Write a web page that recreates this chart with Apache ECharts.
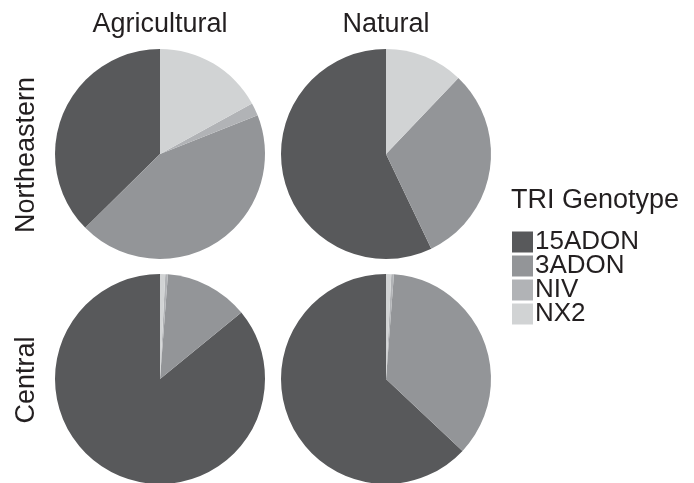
<!DOCTYPE html>
<html>
<head>
<meta charset="utf-8">
<script src="https://cdn.jsdelivr.net/npm/echarts@6/dist/echarts.min.js"></script>
<style>html,body{margin:0;padding:0;background:#fff}#c{width:694px;height:483px}</style>
</head>
<body>
<div id="c"></div>
<script>
var genotypes = ['15ADON', '3ADON', 'NIV', 'NX2'];
var columns = ['Agricultural', 'Natural'];
var rows = ['Northeastern', 'Central'];
var agriNortheastern = [37.4, 43.6, 2.0, 17.0];
var naturalNortheastern = [57.1, 30.8, 0, 12.1];
var agriCentral = [85.9, 12.9, 0.4, 0.8];
var naturalCentral = [63.0, 35.8, 0.4, 0.8];

var colors = ['#58595b', '#939598', '#b1b3b6', '#d1d3d4'];
var font = 'Liberation Sans, Arial, Helvetica, sans-serif';
var textColor = '#231f20';

var chart = echarts.init(document.getElementById('c'));
var colX = [160, 386];
var rowY = [154, 379];
var grid = [[agriNortheastern, naturalNortheastern], [agriCentral, naturalCentral]];

var series = [];
for (var r = 0; r < 2; r++) {
  for (var c = 0; c < 2; c++) {
    series.push({
      type: 'pie',
      name: columns[c] + ' ' + rows[r],
      center: [colX[c], rowY[r]],
      radius: [0, 105],
      startAngle: 90,
      clockwise: false,
      label: {show: false},
      labelLine: {show: false},
      emphasis: {disabled: true},
      itemStyle: {borderWidth: 0},
      data: genotypes.map(function (g, i) {
        return {name: g, value: grid[r][c][i], itemStyle: {color: colors[i]}};
      })
    });
  }
}

var graphics = [];
columns.forEach(function (t, i) {
  graphics.push({type: 'text', x: colX[i], y: 25, style: {text: t, font: '27px ' + font, fill: textColor, textAlign: 'center', textVerticalAlign: 'middle'}});
});
rows.forEach(function (t, i) {
  graphics.push({type: 'text', x: 27, y: rowY[i] + 1, rotation: Math.PI / 2, style: {text: t, font: '27px ' + font, fill: textColor, textAlign: 'center', textVerticalAlign: 'middle'}});
});
graphics.push({type: 'text', x: 511, y: 201, style: {text: 'TRI Genotype', font: '27px ' + font, fill: textColor, textAlign: 'left', textVerticalAlign: 'middle'}});

chart.setOption({
  animation: false,
  color: colors,
  legend: {
    orient: 'vertical',
    left: 507,
    top: 224,
    itemWidth: 21,
    itemHeight: 21,
    itemGap: -2,
    icon: 'rect',
    selectedMode: false,
    data: genotypes,
    textStyle: {fontSize: 26, fontFamily: font, color: textColor, padding: [0, 0, 0, -3]}
  },
  graphic: graphics,
  series: series
});
</script>
</body>
</html>
